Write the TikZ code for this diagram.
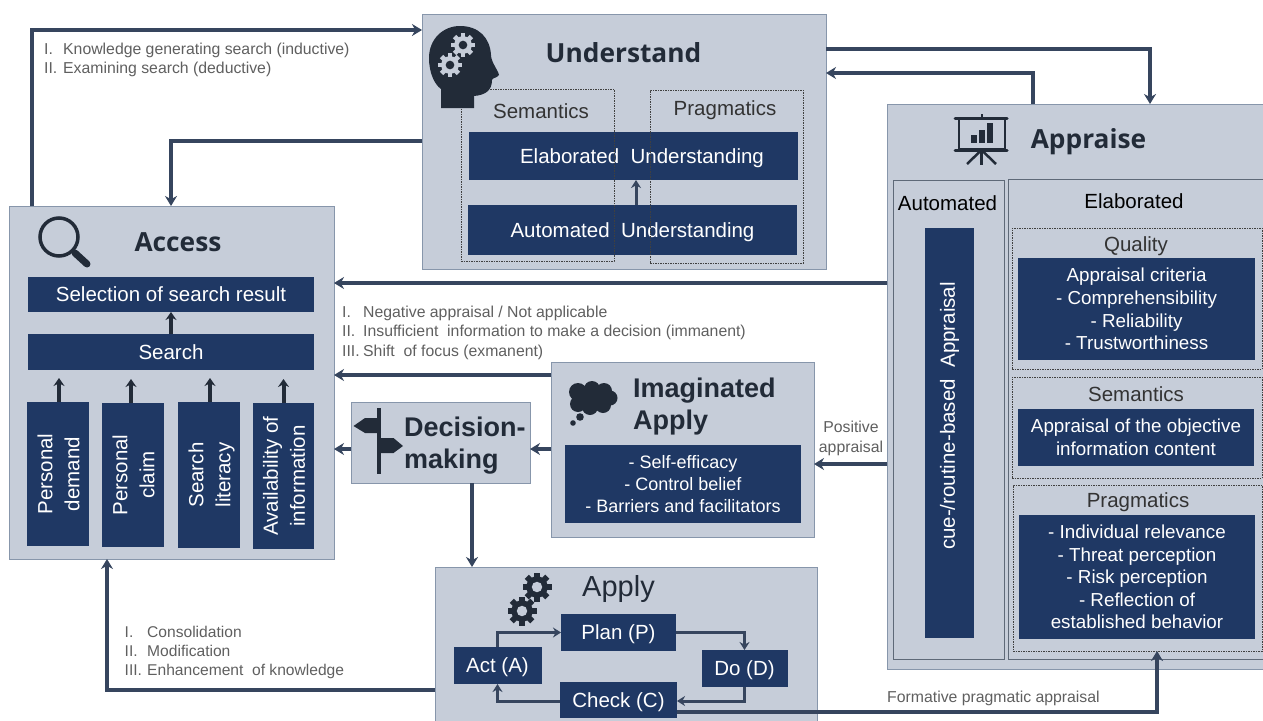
\documentclass[tikz,border=0pt]{standalone}
\usepackage{fontspec}
\setmainfont{Liberation Sans}
\newfontfamily\headfont{Open Sans}
\usepackage{tikz}
\usetikzlibrary{arrows.meta,positioning}
\definecolor{mhpanel}{RGB}{198,205,217}
\definecolor{mhedge}{RGB}{135,150,171}
\definecolor{mhnavy}{RGB}{31,56,100}
\definecolor{mharrow}{RGB}{54,69,94}
\definecolor{mhicon}{RGB}{34,43,56}
\definecolor{mhnote}{RGB}{95,95,95}
\tikzstyle{flow} = [line width=3.6pt,->,>={Stealth[length=10pt,width=12pt]},color=mharrow]
\tikzstyle{minor} = [line width=3pt,->,>={Stealth[length=8pt,width=10pt]},color=mharrow]
\tikzstyle{riser} = [line width=4pt,->,>={Stealth[length=8pt,width=11pt]},color=mhicon]
\tikzstyle{panel} = [rectangle, draw=mhedge, fill=mhpanel, line width=1pt, inner sep=0pt, outer sep=0pt]
\tikzstyle{subpanel} = [rectangle, draw=mhedge!70!black, line width=0.8pt, inner sep=0pt, outer sep=0pt]
\tikzstyle{scopebox} = [rectangle, draw=black!75, line width=0.6pt, dash pattern=on 1.5pt off 1pt, inner sep=0pt, outer sep=0pt]
\tikzstyle{navy} = [rectangle, fill=mhnavy, text=white, align=center, inner sep=0pt, outer sep=0pt, font=\fontsize{20.5}{27}\selectfont]
\tikzstyle{oneline} = [navy, text height=14.5pt, text depth=0pt]
\tikzstyle{listbox} = [navy, font=\fontsize{18.8}{22.6}\selectfont]
\tikzstyle{head} = [inner sep=0pt, text=mhicon, font=\headfont\bfseries\fontsize{26.3}{32}\selectfont]
\tikzstyle{heavy} = [inner sep=0pt, text=mhicon, align=left, font=\bfseries\fontsize{27}{32}\selectfont]
\tikzstyle{tag} = [inner sep=0pt, text=black!80, font=\fontsize{20.5}{24}\selectfont]
\tikzstyle{note} = [inner sep=0pt, anchor=west, text=mhnote, font=\fontsize{15.8}{19.2}\selectfont]
% gear glyph: x, y, radius, body colour, hole colour
\newcommand{\gearicon}[5]{%
\begin{scope}[shift={(#1,#2)}]
\foreach \ang in {0,45,...,315} \fill[#4, rotate=\ang] (-0.2*#3,0) rectangle (0.2*#3,#3);
\fill[#4] (0,0) circle (0.74*#3);
\fill[#5] (0,0) circle (0.36*#3);
\end{scope}}
% two rotated lines in a bar
\newcommand{\barlines}[2]{\hspace*{5pt}\rotatebox{90}{\begin{tabular}{@{}c@{}}#1\\#2\end{tabular}}}

\begin{document}
\begin{tikzpicture}[x=1pt,y=-1pt]
\useasboundingbox (0,0) rectangle (1263,720);

% Big panels
\node (understand) [panel, minimum width=404, minimum height=255] at (624,141.5) {};
\node (access) [panel, minimum width=325, minimum height=353] at (171.5,382.5) {};
\node (appraise) [panel, minimum width=378, minimum height=565] at (1076,386.5) {};
\node (imagined) [panel, minimum width=263, minimum height=175] at (682.5,449.5) {};
\node (decision) [panel, minimum width=179, minimum height=81] at (440.5,442.5) {};
\node (apply) [panel, minimum width=382, minimum height=160] at (626,647) {};

% Understand
\node (elabbar) [oneline, minimum width=329, minimum height=48] at (633.5,156) {\hspace*{17pt}Elaborated\ \ Understanding};
\node (autobar) [oneline, minimum width=329, minimum height=50] at (632.5,230) {Automated\ \ Understanding};
\node (semscope) [scopebox, minimum width=153, minimum height=172] at (537.5,175) {};
\node (pragscope) [scopebox, minimum width=153, minimum height=173] at (726.5,176.5) {};
\node (semtag) [tag] at (541,111) {Semantics};
\node (pragtag) [tag] at (725,110.5) {Pragmatics};
\node (understandtitle) [head] at (623.5,53) {Understand};

% Access
\node (selection) [oneline, minimum width=286, minimum height=35] at (171,294.5) {Selection of search result};
\node (search) [oneline, minimum width=286, minimum height=36] at (171,352) {Search};
\node (demand) [navy, minimum width=62, minimum height=144] at (58,474) {\barlines{Personal}{demand}};
\node (claim) [navy, minimum width=62, minimum height=144] at (133,475) {\barlines{Personal}{claim}};
\node (literacy) [navy, minimum width=62, minimum height=146] at (209,475) {\barlines{Search}{literacy}};
\node (avail) [navy, minimum width=61, minimum height=146] at (283.5,476) {\barlines{Availability of}{information}};
\node (accesstitle) [head] at (178,242) {Access};

% Appraise
\node (autopanel) [subpanel, minimum width=111, minimum height=479] at (948.5,419.5) {};
\node (elabpanel) [subpanel, minimum width=256, minimum height=480, fill=mhpanel] at (1136,419) {};
\node (cuebar) [navy, minimum width=49, minimum height=410] at (949.5,433) {\rotatebox{90}{\hspace*{34pt}cue-/routine-based\ \ Appraisal}};
\node (autotag) [tag, text=black] at (947.5,203) {Automated};
\node (elabtag) [tag, text=black] at (1134,201) {Elaborated};
\node (qualscope) [scopebox, minimum width=250, minimum height=141] at (1137,298.5) {};
\node (qualtag) [tag] at (1136,246.5) {Quality};
\node (qualbar) [listbox, minimum width=237, minimum height=102] at (1136.5,309) {Appraisal criteria\\- Comprehensibility\\- Reliability\\- Trustworthiness};
\node (semapp) [scopebox, minimum width=250, minimum height=101] at (1137,427.5) {};
\node (semapptag) [tag] at (1136,394) {Semantics};
\node (sembar) [listbox, minimum width=236, minimum height=57] at (1136,437.5) {Appraisal of the objective\\information content};
\node (pragapp) [scopebox, minimum width=249, minimum height=166] at (1137.5,568) {};
\node (pragapptag) [tag] at (1138,502.5) {Pragmatics};
\node (pragbar) [listbox, minimum width=236, minimum height=124] at (1137,577) {- Individual relevance\\- Threat perception\\- Risk perception\\- Reflection of\\established behavior};
\node (appraisetitle) [head] at (1088.5,142) {Appraise};

% Imaginated apply and decision
\node (imaglist) [listbox, font=\fontsize{18}{22.4}\selectfont, minimum width=236, minimum height=78] at (683,484) {- Self-efficacy\\- Control belief\\- Barriers and facilitators};
\node (imagtitle) [heavy, anchor=north west] at (633,378) {Imaginated\\Apply};
\node (decisiontitle) [heavy, anchor=north west] at (404,417) {Decision-\\making};

% Apply cycle
\node (plan) [oneline, minimum width=115, minimum height=37] at (618.5,632.5) {Plan (P)};
\node (doit) [oneline, minimum width=86, minimum height=37] at (744.5,668.5) {Do (D)};
\node (check) [oneline, minimum width=117, minimum height=36] at (618.5,700) {Check (C)};
\node (act) [oneline, minimum width=88, minimum height=37] at (497.5,665.5) {Act (A)};
\node (applytitle) [inner sep=0pt, text=mhicon, font=\fontsize{29}{34}\selectfont] at (618.5,589) {Apply};

% Texts beside the arrows
\node (searchnote) [note] at (44,60) {\begin{tabular}{@{}p{19pt}@{}l@{}}I. & Knowledge generating search (inductive)\\II. & Examining search (deductive)\end{tabular}};
\node (negnote) [note] at (342,333) {\begin{tabular}{@{}p{21pt}@{}l@{}}I. & Negative appraisal / Not applicable\\II. & Insufficient\ \ information to make a decision (immanent)\\III. & Shift\ \ of focus (exmanent)\end{tabular}};
\node (consnote) [note, font=\fontsize{15.6}{19.2}\selectfont] at (124.5,652.5) {\begin{tabular}{@{}p{22.5pt}@{}l@{}}I. & Consolidation\\II. & Modification\\III. & Enhancement\ \ of knowledge\end{tabular}};
\node (posnote) [note, anchor=center, align=center] at (851,438.5) {Positive\\appraisal};
\node (formnote) [note] at (887,698) {Formative pragmatic appraisal};

% Arrows between the phases
\draw[flow] (access.north -| 32,0) |- (understand.west |- 0,30);
\draw[flow] (understand.west |- 0,141) -| (access.north -| 171,0);
\draw[flow] (understand.east |- 0,49) -| (appraise.north -| 1150,0);
\draw[flow] (appraise.north -| 1033,0) |- (understand.east |- 0,73);
\draw[flow] (appraise.west |- 0,283) -- (access.east |- 0,283);
\draw[flow] (imagined.west |- 0,375) -- (access.east |- 0,375);
\draw[flow] (imagined.west |- 0,449) -- (decision.east |- 0,449);
\draw[flow] (decision.west |- 0,449) -- (access.east |- 0,449);
\draw[flow] (appraise.west |- 0,464) -- (imagined.east |- 0,464);
\draw[flow] (decision.south -| 472,0) -- (apply.north -| 472,0);
\draw[flow] (apply.west |- 0,690) -| (access.south -| 107,0);
\draw[flow] (check.east |- 0,712) -| (pragapp.south -| 1157,0);

% Arrows inside the panels
\draw[riser] (search.north) -- (selection.south);
\draw[riser] (demand.north) ++(1,0) -- ++(0,-24);
\draw[riser] (claim.north) ++(-2,0) -- ++(0,-24);
\draw[riser] (literacy.north) ++(1,0) -- ++(0,-24);
\draw[riser] (avail.north) -- ++(0,-24);
\draw[minor] (autobar.north -| 636,0) -- (elabbar.south -| 636,0);
\draw[minor] (act.north) |- (plan.west);
\draw[minor] (plan.east) -| (doit.north);
\draw[minor] (doit.south) |- (check.east |- 0,701);
\draw[minor] (check.west |- 0,701) -| (act.south);

% Head with gears
\fill[mhicon] (441,108) -- (441,89) .. controls (434,84) and (429,72) .. (429,58)
  .. controls (429,39) and (443,26) .. (460,26) .. controls (479,26) and (490,38) .. (491,55)
  .. controls (491,62) and (498,70) .. (499,75) .. controls (497,78) and (492,78) .. (492,80)
  .. controls (492,90) and (486,95) .. (474,96) -- (474,108) -- cycle;
\gearicon{463}{45}{12}{mhpanel}{mhicon}
\gearicon{450}{65}{12}{mhpanel}{mhicon}

% Magnifier
\draw[mhicon, line width=3.5pt] (59,237) circle (19);
\draw[mhicon, line width=7pt, line cap=round] (75,253) -- (87,264);

% Presentation board
\draw[mhicon, line width=2.5pt] (959,118) rectangle (1005,149);
\draw[mhicon, line width=3pt, line cap=round] (955,118) -- (1007,118);
\draw[mhicon, line width=3pt, line cap=round] (955,150) -- (1007,150);
\draw[mhicon, line width=2pt] (981.5,114) -- (981.5,118);
\draw[mhicon, line width=2.5pt] (981.5,150) -- (981.5,165);
\draw[mhicon, line width=2.5pt] (981.5,150) -- (967,164);
\draw[mhicon, line width=2.5pt] (981.5,150) -- (996,164);
\fill[mhicon] (971,135) rectangle (977,143);
\fill[mhicon] (978.5,130) rectangle (985,143);
\fill[mhicon] (986.5,123) rectangle (993,143);

% Thought cloud
\fill[mhicon] (592,398) ellipse (19 and 12);
\foreach \cx/\cy/\cr in {578/392/9,592/389/8,604/391/8,610/398/7.5,603/405/8,590/407/8,578/404/8} \fill[mhicon] (\cx,\cy) circle (\cr);
\fill[mhicon] (580,417) circle (3.8);
\fill[mhicon] (573,423) circle (2.8);

% Signpost
\fill[mhicon] (377,408) rectangle (380.5,474);
\fill[mhicon] (353.5,426) -- (365,418) -- (378,418) -- (378,433) -- (365,433) -- cycle;
\fill[mhicon] (380,438) -- (393.5,438) -- (403,446) -- (393.5,453) -- (380,453) -- cycle;

% Gears of apply
\gearicon{537}{587}{14.5}{mhicon}{mhpanel}
\gearicon{522}{611}{14.5}{mhicon}{mhpanel}
\end{tikzpicture}
\end{document}
